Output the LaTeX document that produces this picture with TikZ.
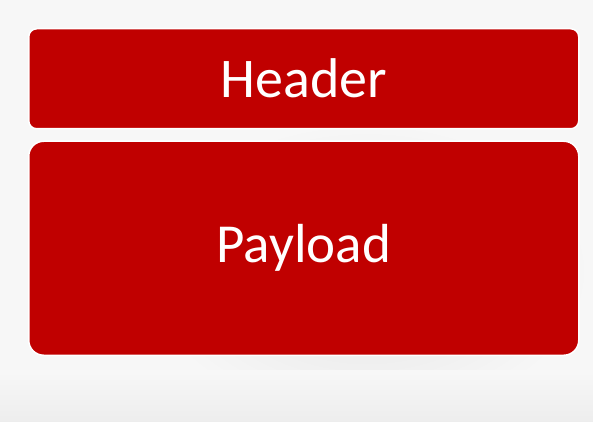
\documentclass[tikz,border=0pt]{standalone}
\usepackage{fontspec}
\setmainfont{Carlito}
\usetikzlibrary{positioning}
\definecolor{boxred}{RGB}{192,0,0}
\tikzset{
  field/.style={draw=white, line width=1.5pt, fill=boxred, text=white,
    minimum width=550pt, anchor=north west, inner sep=0pt},
}
\begin{document}
\begin{tikzpicture}[x=1pt,y=-1pt]
  % blurred backdrop
  \useasboundingbox (0,0) rectangle (593,422);
  \fill[gray!6] (0,0) rectangle (593,422);
  \shade[inner color=gray!22, outer color=gray!6] (140,120) rectangle (593,422);
  \shade[top color=gray!6, bottom color=gray!14] (0,370) rectangle (593,422);
  % packet fields
  \node[field, rounded corners=8pt, minimum height=100pt,
    font=\fontsize{56}{60}\selectfont] (header) at (28,28) {Header};
  \node[field, rounded corners=15pt, minimum height=214pt,
    font=\fontsize{55}{60}\selectfont, below=11pt of header.south west, anchor=north west] (payload) {Payload};
\end{tikzpicture}
\end{document}
